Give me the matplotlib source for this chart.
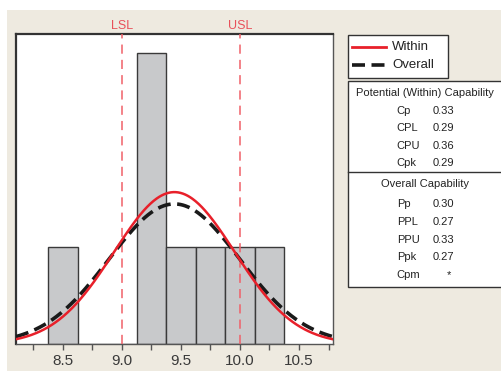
import numpy as np
import matplotlib
matplotlib.use("Agg")
import matplotlib.pyplot as plt
from matplotlib.patches import Rectangle
from matplotlib.lines import Line2D

# ---- data ----
bin_centers = [8.5, 8.75, 9.0, 9.25, 9.5, 9.75, 10.0, 10.25]
bin_counts = [1, 0, 0, 3, 1, 1, 1, 1]
bin_width = 0.25
n_obs = 8
mean = 9.445
sigma_within = 0.51
sigma_overall = 0.553
lsl, usl = 9.0, 10.0
tick_values = [8.5, 9.0, 9.5, 10.0, 10.5]
tick_labels = ["8.5", "9.0", "9.5", "10.0", "10.5"]
within_stats = [("Cp", "0.33"), ("CPL", "0.29"), ("CPU", "0.36"), ("Cpk", "0.29")]
overall_stats = [("Pp", "0.30"), ("PPL", "0.27"), ("PPU", "0.33"), ("Ppk", "0.27"), ("Cpm", "*")]

W, H = 502, 371
plt.rcParams['font.family'] = ['Liberation Sans Narrow', 'Liberation Sans', 'DejaVu Sans']
fig = plt.figure(figsize=(W / 100, H / 100), dpi=100)
fig.patch.set_facecolor("white")

def fx(x):
    return x / W

def fy(y):
    return 1 - y / H

beige = "#eeeae0"
fig.patches.append(Rectangle((fx(7), 0), 1 - fx(7), fy(10), transform=fig.transFigure,
                             facecolor=beige, edgecolor="none", zorder=-5))

ax = fig.add_axes([fx(16), fy(344), fx(333) - fx(16), fy(34.3) - fy(344)])
ax.set_zorder(3)
ax.set_facecolor("white")
ax.bar(bin_centers, bin_counts, width=bin_width, color="#c8c9cb", edgecolor="#3a3a3a",
       linewidth=1.0, zorder=2)

xlo, xhi = 8.104, 10.788
xs = np.linspace(xlo, xhi, 400)
def scaled_pdf(x, s):
    return n_obs * bin_width * np.exp(-0.5 * ((x - mean) / s) ** 2) / (s * np.sqrt(2 * np.pi))

ax.plot(xs, scaled_pdf(xs, sigma_overall), color="#1a1a1a", lw=2.6,
        linestyle=(0, (3.6, 1.8)), zorder=4)
ax.plot(xs, scaled_pdf(xs, sigma_within), color="#e8202a", lw=1.8, zorder=5)

for v, lab in [(lsl, "LSL"), (usl, "USL")]:
    ax.axvline(v, color="#f06068", lw=1.1, linestyle=(0, (6, 4)), zorder=3)
    ax.text(v, 1.027, lab, color="#e8505a", ha="center", va="center", fontsize=9,
            transform=ax.get_xaxis_transform())

ax.set_xlim(xlo, xhi)
ax.set_ylim(0, 3.19)
ax.set_yticks([])
ax.set_xticks(tick_values)
ax.set_xticklabels(tick_labels, fontsize=11, color="#3a3a3a")
ax.set_xticks(np.arange(8.25, 10.8, 0.25), minor=True)
ax.tick_params(axis="x", which="both", direction="out", length=4, width=1, color="#555555", pad=3)
for s in ax.spines.values():
    s.set_color("#555555")
    s.set_linewidth(1.0)
ax.spines["top"].set_linewidth(1.6)
ax.spines["top"].set_color("#333333")
ax.spines["left"].set_linewidth(1.6)
ax.spines["left"].set_color("#333333")

# ---- legend box ----
fig.patches.append(Rectangle((fx(348.3), fy(78.3)), fx(447.7) - fx(348.3), fy(35) - fy(78.3),
                             transform=fig.transFigure, facecolor="white", edgecolor="#333333",
                             lw=1.0, zorder=1))
fig.lines.append(Line2D([fx(352), fx(386)], [fy(46.5), fy(46.5)], transform=fig.transFigure,
                        color="#e8202a", lw=2.0))
fig.lines.append(Line2D([fx(352), fx(386)], [fy(65), fy(65)], transform=fig.transFigure,
                        color="#1a1a1a", lw=2.6, linestyle=(0, (3.6, 1.8))))
fig.text(fx(392), fy(46.5), "Within", fontsize=9.5, va="center", ha="left", color="#222222")
fig.text(fx(392), fy(65), "Overall", fontsize=9.5, va="center", ha="left", color="#222222")

# ---- stats table ----
fig.patches.append(Rectangle((fx(348.3), fy(286.7)), fx(506) - fx(348.3), fy(81) - fy(286.7),
                             transform=fig.transFigure, facecolor="white", edgecolor="#333333",
                             lw=1.0, zorder=1))
fig.lines.append(Line2D([fx(348.3), fx(502)], [fy(171.7), fy(171.7)], transform=fig.transFigure,
                        color="#333333", lw=1.0))
fs = 8
fig.text(fx(425), fy(92.7), "Potential (Within) Capability", fontsize=fs, ha="center", va="center", color="#222222")
for i, (k, v) in enumerate(within_stats):
    y = 110.7 + i * 17.5
    fig.text(fx(396.7), fy(y), k, fontsize=fs, ha="left", va="center", color="#222222")
    fig.text(fx(432.7), fy(y), v, fontsize=fs, ha="left", va="center", color="#222222")
fig.text(fx(425), fy(184.3), "Overall Capability", fontsize=fs, ha="center", va="center", color="#222222")
for i, (k, v) in enumerate(overall_stats):
    y = 204.3 + i * 17.7
    fig.text(fx(396.7), fy(y), k, fontsize=fs, ha="left", va="center", color="#222222")
    if v == "*":
        fig.text(fx(449), fy(y), v, fontsize=fs, ha="center", va="center", color="#222222")
    else:
        fig.text(fx(432.7), fy(y), v, fontsize=fs, ha="left", va="center", color="#222222")

fig.savefig("out.png", dpi=100, facecolor=fig.get_facecolor())
